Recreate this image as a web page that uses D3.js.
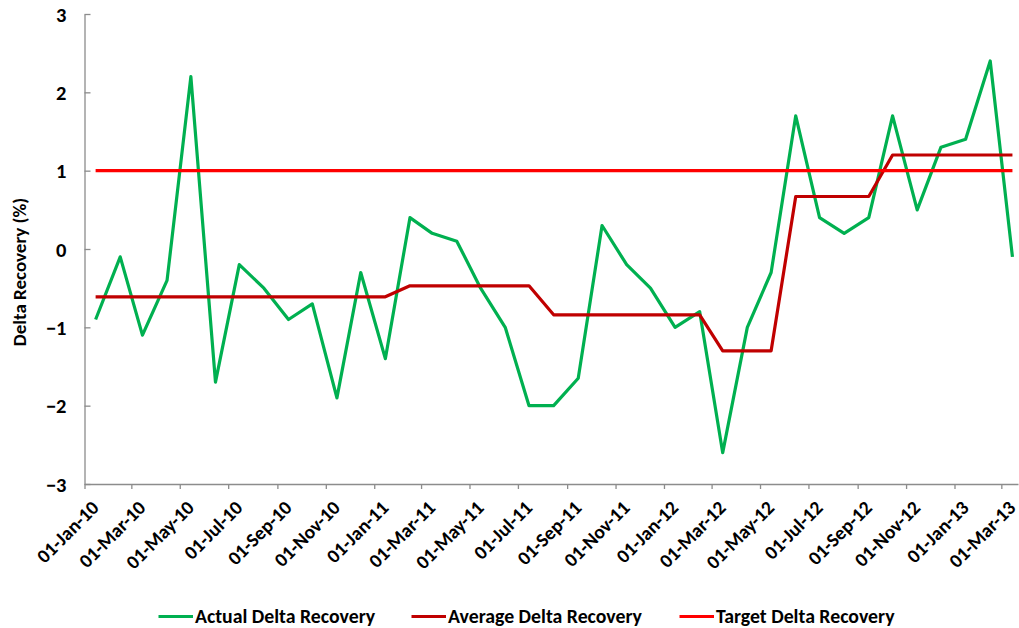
<!DOCTYPE html>
<html>
<head>
<meta charset="utf-8">
<script src="https://cdn.jsdelivr.net/npm/d3@7"></script>
<style>
  html, body { margin: 0; padding: 0; background: #fff; }
  svg { display: block; }
  text { font-family: Carlito, Calibri, Lato, "Open Sans", sans-serif; font-weight: bold; fill: #000; }
</style>
</head>
<body>
<svg id="chart" width="1019" height="628"></svg>
<script>
// ---- data ----
const months = [
  "2010-01","2010-02","2010-03","2010-04","2010-05","2010-06","2010-07","2010-08","2010-09","2010-10","2010-11","2010-12",
  "2011-01","2011-02","2011-03","2011-04","2011-05","2011-06","2011-07","2011-08","2011-09","2011-10","2011-11","2011-12",
  "2012-01","2012-02","2012-03","2012-04","2012-05","2012-06","2012-07","2012-08","2012-09","2012-10","2012-11","2012-12",
  "2013-01","2013-02","2013-03"
];
const actual = [
  -0.9,-0.1,-1.1,-0.4,2.2,-1.7,-0.2,-0.5,-0.9,-0.7,-1.9,-0.3,
  -1.4,0.4,0.2,0.1,-0.5,-1.0,-2.0,-2.0,-1.65,0.3,-0.2,-0.5,
  -1.0,-0.8,-2.6,-1.0,-0.3,1.7,0.4,0.2,0.4,1.7,0.5,1.3,
  1.4,2.4,-0.1
];
const average = [
  -0.61,-0.61,-0.61,-0.61,-0.61,-0.61,-0.61,-0.61,-0.61,-0.61,-0.61,-0.61,
  -0.61,-0.47,-0.47,-0.47,-0.47,-0.47,-0.47,-0.84,-0.84,-0.84,-0.84,-0.84,
  -0.84,-0.84,-1.30,-1.30,-1.30,0.67,0.67,0.67,0.67,1.2,1.2,1.2,
  1.2,1.2,1.2
];
const target = [
  1,1,1,1,1,1,1,1,1,1,1,1,
  1,1,1,1,1,1,1,1,1,1,1,1,
  1,1,1,1,1,1,1,1,1,1,1,1,
  1,1,1
];
const yTicks = [-3,-2,-1,0,1,2,3];
const seriesNames = ["Actual Delta Recovery","Average Delta Recovery","Target Delta Recovery"];
const seriesColors = ["#00B050","#C00000","#FF0000"];
const yTitle = "Delta Recovery (%)";
const axisStart = "2010-01-01";
const axisEnd = "2013-03-22";
const lastTick = "2013-03-01";
const pointDay = 15;

// ---- layout ----
const svg = d3.select("#chart");
const mLeft = 84.5, mRight = 1018, mTop = 14, mBottom = 484;

const parse = d3.utcParse("%Y-%m-%d");
const dates = months.map(m => parse(m + "-" + String(pointDay).padStart(2, "0")));

const x = d3.scaleUtc().domain([parse(axisStart), parse(axisEnd)]).range([mLeft, mRight]);
const y = d3.scaleLinear().domain([-3, 3]).range([mBottom, mTop]);

const axisColor = "#8C8C8C";

// x axis
const xTickVals = d3.utcMonth.every(2).range(parse(axisStart), d3.utcDay.offset(parse(lastTick), 1));
const fmt = d3.utcFormat("%d-%b-%y");
const gx = svg.append("g")
  .attr("transform", `translate(0,${mBottom})`)
  .call(d3.axisBottom(x).tickValues(xTickVals).tickFormat(fmt).tickSize(5).tickSizeOuter(0));
gx.select(".domain").attr("stroke", axisColor).attr("stroke-width", 1.3);
gx.selectAll(".tick line").attr("stroke", axisColor).attr("stroke-width", 1.3);
gx.selectAll(".tick text")
  .attr("font-size", 19.5)
  .attr("text-anchor", "end")
  .attr("y", null).attr("dy", null)
  .attr("transform", "translate(15,25) rotate(-45)");

// y axis
const gy = svg.append("g")
  .attr("transform", `translate(${mLeft},0)`)
  .call(d3.axisLeft(y).tickValues(yTicks).tickFormat(d3.format("d")).tickSize(-6).tickSizeOuter(0).tickPadding(18));
gy.select(".domain").attr("stroke", axisColor).attr("stroke-width", 1.3);
gy.selectAll(".tick text").attr("font-size", 20.5).attr("dy", "0.35em");
gy.selectAll(".tick line").attr("stroke", axisColor).attr("stroke-width", 1.3);

// y title
svg.append("text")
  .attr("transform", `translate(26,${(mTop + mBottom) / 2 + 23}) rotate(-90)`)
  .attr("text-anchor", "middle")
  .attr("font-size", 19)
  .text(yTitle);

// lines
const line = d3.line().x((d, i) => x(dates[i])).y(d => y(d));
[actual, average, target].forEach((s, k) => {
  svg.append("path")
    .datum(s)
    .attr("fill", "none")
    .attr("stroke", seriesColors[k])
    .attr("stroke-width", 3.2)
    .attr("stroke-linejoin", "round")
    .attr("d", line);
});

// legend
const legendY = 616.5;
const legendX = [158.5, 411.5, 679.5];
seriesNames.forEach((name, k) => {
  const g = svg.append("g").attr("transform", `translate(${legendX[k]},${legendY})`);
  g.append("line").attr("x1", 0).attr("x2", 34.5).attr("y1", 0).attr("y2", 0)
    .attr("stroke", seriesColors[k]).attr("stroke-width", 3.2);
  g.append("text").attr("x", 36.5).attr("y", 0).attr("dy", "0.35em")
    .attr("font-size", 19.8).text(name);
});
</script>
</body>
</html>
